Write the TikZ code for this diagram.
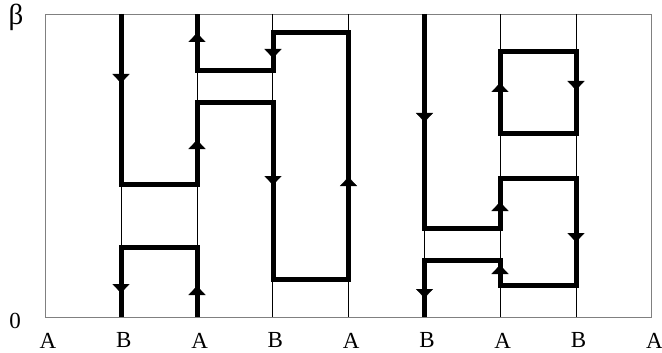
\documentclass[tikz,border=0pt]{standalone}
\usepackage{fontspec}
\setmainfont{Liberation Serif}
\usetikzlibrary{arrows.meta}
\tikzset{x=1pt, y=-1pt, % one unit is one pixel of the picture, y grows downwards
  every node/.style={align=center, inner sep=0pt,
    font=\fontsize{23}{26}\selectfont},
  frame/.style={draw=gray, line width=0.9pt},
  gridline/.style={draw, line width=0.8pt},
  worldline/.style={ % the thick paths
    draw, line width=5pt, line join=miter},
  flowtip/.style={ % the arrow heads on the thick paths
    line width=0.1pt, -{Triangle[width=17pt,length=9pt]}}}
% arrow head on column #1, its tip at #3, pointing away from #2
\newcommand{\flowat}[3]{\draw[flowtip] (#1,#2) -- (#1,#3);}

\begin{document}
\begin{tikzpicture}
  \useasboundingbox (0,0) rectangle (662,353);
  \draw[frame] (45.3,14) rectangle (651.7,317);
  \foreach \i/\name in {0/A,1/B,2/A,3/B,4/A,5/B,6/A,7/B,8/A} {
    \ifnum\i>0 \ifnum\i<8
      \draw[gridline] ({45.3+75.8*\i},14) -- ({45.3+75.8*\i},317);
    \fi\fi
    \node (lab\i) at ({48+75.8*\i},340.5) {\name};
  }
  \node[font=\fontsize{29}{30}\selectfont] (beta) at (16,17) {β};
  \node (zero) at (15,320.5) {0};

  % long path through the left half
  \draw[worldline] (121,14) -- (121,184) -- (197,184) -- (197,103) -- (273,103)
    -- (273,279) -- (348.5,279) -- (348.5,33) -- (273,33) -- (273,71)
    -- (197,71) -- (197,14);
  \flowat{121}{70}{83}
  \flowat{197}{152}{140}
  \flowat{273}{170}{185}
  \flowat{348.5}{190}{177}
  \flowat{273}{45}{58}
  \flowat{197}{45}{33}

  % short path at the bottom left
  \draw[worldline] (197,317) -- (197,247) -- (121,247) -- (121,317);
  \flowat{197}{298}{286}
  \flowat{121}{280}{293}

  % long path through the right half
  \draw[worldline] (424.5,14) -- (424.5,228) -- (500,228) -- (500,178) -- (576,178)
    -- (576,285) -- (500,285) -- (500,260) -- (424.5,260) -- (424.5,317);
  \flowat{424.5}{110}{122}
  \flowat{500}{215}{202}
  \flowat{576}{230}{242}
  \flowat{500}{277}{265}
  \flowat{424.5}{286}{298}

  % closed loop at the top right
  \draw[worldline] (500,133) -- (500,52) -- (576,52) -- (576,133) -- cycle;
  \flowat{500}{95}{83}
  \flowat{576}{78}{90}
\end{tikzpicture}
\end{document}
